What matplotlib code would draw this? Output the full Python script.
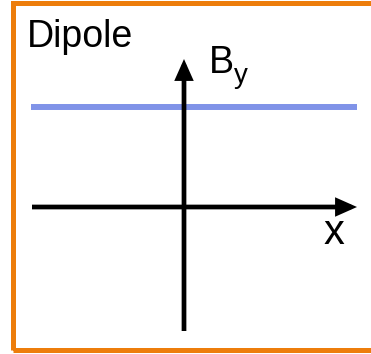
import matplotlib.pyplot as plt
from matplotlib.patches import Rectangle

# diagram units: pixels relative to the axis crossing, y pointing up
x_field = [-153, 173]
by_field = [100, 100]
x_axis = [-152, 173]
y_axis = [-124, 148]

title = "Dipole"
y_label = "B"
y_sub = "y"
x_label = "x"

fig = plt.figure(figsize=(3.71, 3.54), dpi=100)
ax = fig.add_axes([0, 0, 1, 1])
ax.set_xlim(-184, 187)
ax.set_ylim(-147, 207)
ax.axis('off')

# orange frame
ax.add_patch(Rectangle((-171.5, -142.5), 560, 347, fill=False,
                       edgecolor='#ED7D0B', lw=3.6, clip_on=False))

# field line
ax.plot(x_field, by_field, color='#8093E8', lw=4.3, solid_capstyle='butt')

# axes arrows
arrow = dict(arrowstyle='-|>,head_length=0.45,head_width=0.2', lw=3.4,
             color='black', mutation_scale=22, shrinkA=0, shrinkB=0,
             joinstyle='miter', capstyle='butt')
ax.annotate('', xy=(x_axis[1], 0), xytext=(x_axis[0], 0), arrowprops=arrow)
ax.annotate('', xy=(0, y_axis[1]), xytext=(0, y_axis[0]), arrowprops=arrow)

font = 'Liberation Sans'
ax.text(-157, 160, title, fontsize=27, family=font, va='baseline')
ax.text(25, 134, y_label, fontsize=27, family=font, va='baseline')
ax.text(50, 124, y_sub, fontsize=20, family=font, va='baseline')
ax.text(140, -37, x_label, fontsize=30, family=font, va='baseline')

fig.savefig('out.png', dpi=100)
